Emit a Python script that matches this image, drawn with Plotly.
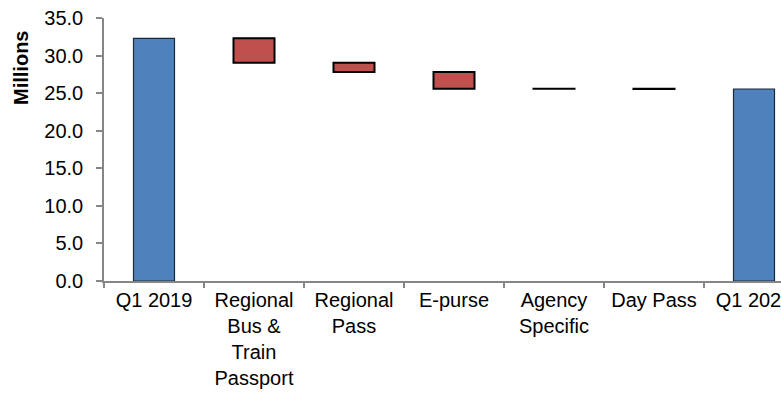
import plotly.graph_objects as go

categories = ["Q1 2019", "Regional<br>Bus &<br>Train<br>Passport", "Regional<br>Pass", "E-purse",
              "Agency<br>Specific", "Day Pass", "Q1 2020"]
measures = ["absolute", "relative", "relative", "relative", "relative", "relative", "total"]
values = [32.3, -3.25, -1.25, -2.2, -0.03, -0.02, 0]

FONT = "Liberation Sans, Arial, sans-serif"
AXIS_GREY = "#868686"

fig = go.Figure(go.Waterfall(
    x=categories,
    y=values,
    measure=measures,
    width=0.41,
    connector=dict(visible=False),
    decreasing=dict(marker=dict(color="#C0504D", line=dict(color="#000000", width=2))),
    increasing=dict(marker=dict(color="#9BBB59", line=dict(color="#000000", width=2))),
    totals=dict(marker=dict(color="#4F81BD", line=dict(color="#1c2a3a", width=1.2))),
    textinfo="none",
    hoverinfo="x+y",
))

fig.update_layout(
    width=781, height=398,
    margin=dict(l=104, r=0, t=18, b=117, autoexpand=False),
    paper_bgcolor="white", plot_bgcolor="white",
    showlegend=False,
    font=dict(family=FONT, size=20, color="#000000"),
    xaxis=dict(
        range=[-0.5, 6.27],
        showline=True, linecolor=AXIS_GREY, linewidth=1.5,
        ticks="outside", ticklen=5, tickcolor=AXIS_GREY, tickwidth=1.5,
        tickson="boundaries", showgrid=False, zeroline=False,
        tickfont=dict(family=FONT, size=20),
        automargin=False, fixedrange=True,
    ),
    yaxis=dict(
        range=[0, 35], dtick=5, tickformat=".1f",
        showline=True, linecolor=AXIS_GREY, linewidth=1.5,
        ticks="outside", ticklen=6, tickcolor=AXIS_GREY, tickwidth=1.5,
        showgrid=False, zeroline=False,
        ticklabelstandoff=9,
        tickfont=dict(family=FONT, size=20),
        automargin=False, fixedrange=True,
    ),
    annotations=[dict(
        text="<b>Millions</b>", textangle=-90,
        xref="paper", yref="paper", x=0, y=0.81,
        xshift=-83, xanchor="center", yanchor="middle",
        showarrow=False, font=dict(family=FONT, size=20, color="#000000"),
    )],
)

fig.write_html("out.html",
               config={"displayModeBar": False},
               post_script="document.body.style.margin='0';document.body.style.overflow='hidden';")
